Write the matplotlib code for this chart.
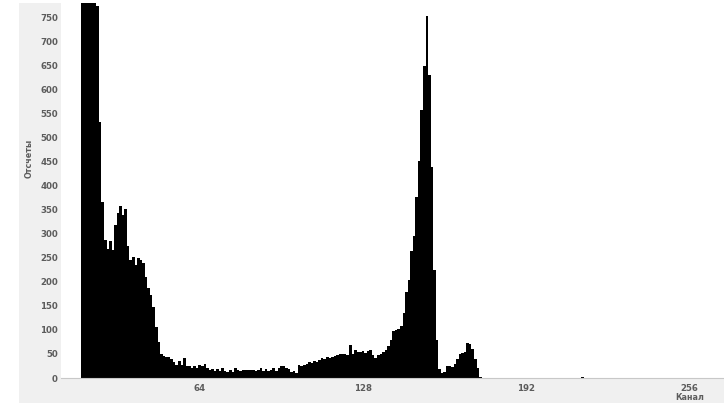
import numpy as np
import matplotlib
matplotlib.use("Agg")
import matplotlib.pyplot as plt
import matplotlib.patches as patches

plt.rcParams['font.family'] = ['DejaVu Sans']

# spectrum counts, channel 18 onward (channels below are empty)
first_channel = 18
counts = [
    1450, 1300, 1150, 1020, 920, 830, 775, 534, 367, 287,          # 18-27
    268, 285, 267, 319, 344, 358, 340, 352, 274, 245,              # 28-37
    253, 235, 249, 246, 240, 210, 188, 172, 147, 107,              # 38-47
    76, 51, 46, 43, 43, 39, 34, 27, 35, 27,                        # 48-57
    41, 25, 24, 20, 24, 20, 27, 24, 29, 20,                        # 58-67
    17, 18, 15, 19, 14, 20, 14, 13, 17, 13,                        # 68-77
    20, 17, 14, 17, 17, 17, 17, 17, 15, 17,                        # 78-87
    20, 15, 18, 15, 17, 20, 15, 20, 26, 24,                        # 88-97
    20, 18, 13, 15, 10, 27, 25, 27, 29, 34,                        # 98-107
    32, 35, 34, 37, 41, 39, 44, 41, 44, 46,                        # 108-117
    48, 49, 51, 50, 48, 69, 51, 58, 55, 55,                        # 118-127
    56, 53, 57, 58, 48, 41, 48, 51, 54, 58,                        # 128-137
    66, 80, 98, 100, 103, 108, 135, 180, 205, 265,                 # 138-147
    295, 376, 452, 558, 650, 754, 632, 440, 225, 80,               # 148-157
    18, 10, 12, 25, 25, 22, 30, 40, 50, 52,                        # 158-167
    55, 72, 70, 60, 40, 20, 3,                                     # 168-174
]
stray_channel = 214
stray_count = 2

n_channels = 256
x_ticks = [64, 128, 192, 256]
y_ticks = list(range(0, 751, 50))

spectrum = np.zeros(n_channels)
spectrum[first_channel:first_channel + len(counts)] = counts
spectrum[stray_channel] = stray_count
edges = np.arange(n_channels + 1) - 0.5

W, H = 724, 403
fig = plt.figure(figsize=(W / 100, H / 100), dpi=100)
fig.patch.set_facecolor('white')

# grey panel behind axes labels
panel = patches.Rectangle((19 / W, 0), 1 - 19 / W, 1 - 3 / H,
                          transform=fig.transFigure,
                          facecolor='#f0f0f0', edgecolor='none', zorder=-10)
fig.add_artist(panel)

ax = fig.add_axes([61 / W, (H - 378) / H, (W - 61) / W, (378 - 3) / H])
ax.set_zorder(1)
ax.set_facecolor('white')
ax.stairs(spectrum, edges, fill=True, color='black', linewidth=0)

ax.set_xlim(9.66, 269.45)
ax.set_ylim(0, 781)
ax.set_xticks(x_ticks)
ax.set_yticks(y_ticks)
ax.tick_params(length=0, labelsize=6.2, labelcolor='#5c5c5c')
ax.tick_params(axis='y', pad=2.2)
ax.tick_params(axis='x', pad=4)
for lbl in ax.get_xticklabels() + ax.get_yticklabels():
    lbl.set_fontweight('bold')
for s in ['top', 'right', 'left']:
    ax.spines[s].set_visible(False)
ax.spines['bottom'].set_color('#c8c8c8')
ax.spines['bottom'].set_linewidth(0.8)

fig.text(29 / W, 1 - 158 / H, 'Отсчеты', rotation=90, ha='center', va='center',
         fontsize=5.8, color='#5c5c5c', fontweight='bold')
fig.text(690 / W, 1 - 398 / H, 'Канал', ha='center', va='center',
         fontsize=5.8, color='#5c5c5c', fontweight='bold')

fig.savefig('out.png', dpi=100, facecolor=fig.get_facecolor())
